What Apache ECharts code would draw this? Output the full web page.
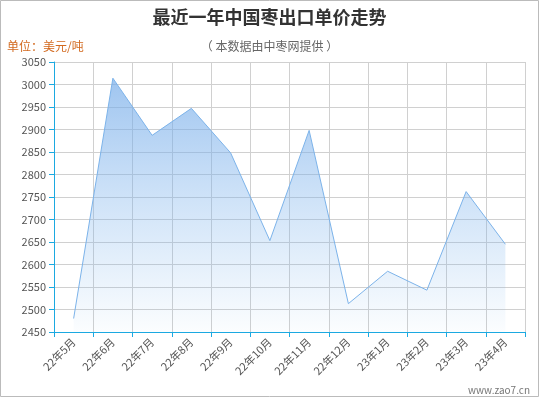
<!DOCTYPE html>
<html>
<head>
<meta charset="utf-8">
<script src="https://cdn.jsdelivr.net/npm/echarts@6/dist/echarts.min.js"></script>
<style>
  html, body { margin: 0; padding: 0; background: #fff; }
  #chart { width: 539px; height: 397px; }
</style>
</head>
<body>
<div id="chart"></div>
<script>
  // 月份 & 单价（美元/吨）
  const months = ['22年5月', '22年6月', '22年7月', '22年8月', '22年9月', '22年10月',
    '22年11月', '22年12月', '23年1月', '23年2月', '23年3月', '23年4月']
  const prices = [2480, 3014, 2887, 2947, 2848, 2653, 2898, 2513, 2585, 2543, 2762, 2645]
  const yTicks = { min: 2450, max: 3050, step: 50 }

  const font = '"Noto Sans CJK SC", "Microsoft YaHei", sans-serif'
  const axisBlue = '#1ba9e1'

  const chart = echarts.init(document.getElementById('chart'))
  chart.setOption({
    backgroundColor: '#fff',
    animation: false,
    textStyle: { fontFamily: font },
    title: [
      {
        text: '最近一年中国枣出口单价走势',
        left: 'center',
        top: 3,
        textStyle: { fontSize: 18, fontWeight: 'bold', color: '#333', fontFamily: font }
      },
      {
        text: '（ 本数据由中枣网提供 ）',
        left: 'center',
        top: 35,
        textStyle: { fontSize: 12, fontWeight: 'normal', color: '#666', fontFamily: font }
      },
      {
        text: '单位：美元/吨',
        left: 2,
        top: 35,
        textStyle: { fontSize: 12, fontWeight: 'normal', color: '#d2691e', fontFamily: font }
      },
      {
        text: 'www.zao7.cn',
        right: 4,
        top: 380,
        textStyle: { fontSize: 10, fontWeight: 'normal', color: '#777', fontFamily: font }
      }
    ],
    graphic: [{
      type: 'rect',
      shape: { x: 0.5, y: 0.5, width: 538, height: 396 },
      style: { fill: 'none', stroke: '#bbb', lineWidth: 1 },
      z: 100
    }],
    grid: { left: 54, right: 14, top: 62, bottom: 65 },
    xAxis: {
      type: 'category',
      data: months,
      boundaryGap: true,
      axisLine: { lineStyle: { color: axisBlue, width: 1 } },
      axisTick: { show: true, length: 5, lineStyle: { color: axisBlue } },
      splitLine: { show: true, lineStyle: { color: '#d0d0d0' } },
      axisLabel: { rotate: 45, fontSize: 11, color: '#555', margin: 8, interval: 0 }
    },
    yAxis: {
      type: 'value',
      min: yTicks.min,
      max: yTicks.max,
      interval: yTicks.step,
      axisLine: { show: true, lineStyle: { color: axisBlue, width: 1 } },
      axisTick: { show: true, length: 5, lineStyle: { color: axisBlue } },
      splitLine: { show: true, lineStyle: { color: '#d0d0d0' } },
      axisLabel: { fontSize: 11, color: '#555', margin: 8, formatter: v => String(v) }
    },
    series: [{
      type: 'line',
      data: prices,
      symbol: 'none',
      lineStyle: { color: '#7cb3ea', width: 1 },
      areaStyle: {
        color: new echarts.graphic.LinearGradient(0, 0, 0, 1, [
          { offset: 0, color: 'rgba(118,172,233,1)' },
          { offset: 0.5, color: 'rgba(124,178,236,0.5)' },
          { offset: 1, color: 'rgba(124,181,236,0.04)' }
        ])
      }
    }]
  })
</script>
</body>
</html>
